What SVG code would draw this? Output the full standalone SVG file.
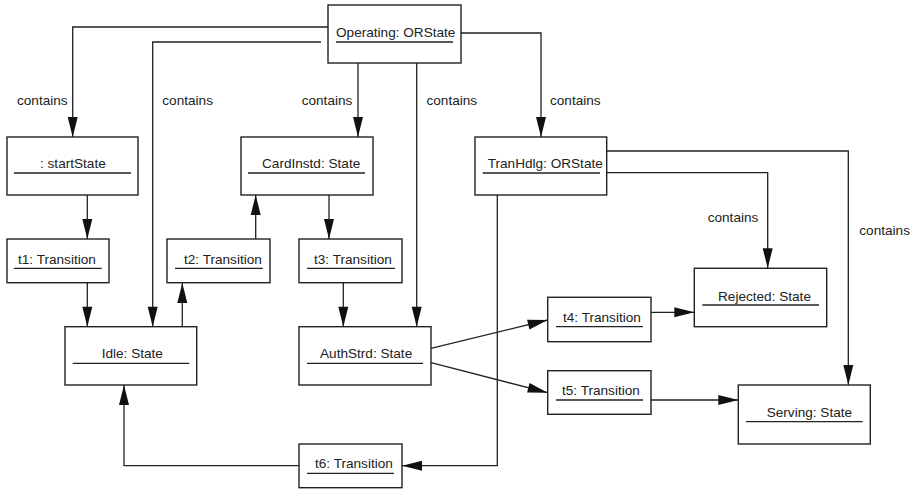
<svg xmlns="http://www.w3.org/2000/svg" width="914" height="490" viewBox="0 0 914 490">
<style>
.box{fill:#fff;stroke:#222;stroke-width:1.4}
.ul{stroke:#222;stroke-width:1.3}
.t{font-family:"Liberation Sans",Arial,sans-serif;font-size:13.6px;fill:#222}
.c{fill:none;stroke:#222;stroke-width:1.3}
</style>
<defs>
<marker id="ah" markerUnits="userSpaceOnUse" markerWidth="21" markerHeight="11" refX="20" refY="5" orient="auto" overflow="visible">
<path d="M0,0 L20,5 L0,10 z" fill="#111"/>
</marker>
</defs>
<rect width="914" height="490" fill="#fff"/>
<g id="connectors">
<path class="c" d="M328,27 H72.7 V137" marker-end="url(#ah)"/>
<path class="c" d="M321,42 H152.7 V326.7" marker-end="url(#ah)"/>
<path class="c" d="M358,63 V137" marker-end="url(#ah)"/>
<path class="c" d="M416.7,63 V326.7" marker-end="url(#ah)"/>
<path class="c" d="M461,33 H541 V137" marker-end="url(#ah)"/>
<path class="c" d="M87.3,195 V239" marker-end="url(#ah)"/>
<path class="c" d="M87.3,283 V326.7" marker-end="url(#ah)"/>
<path class="c" d="M182.3,326.7 V283" marker-end="url(#ah)"/>
<path class="c" d="M255.7,239 V195" marker-end="url(#ah)"/>
<path class="c" d="M329,195 V239" marker-end="url(#ah)"/>
<path class="c" d="M343.3,283 V326.7" marker-end="url(#ah)"/>
<path class="c" d="M431,348.3 L547.7,320" marker-end="url(#ah)"/>
<path class="c" d="M431,362.7 L547.7,392.7" marker-end="url(#ah)"/>
<path class="c" d="M651,312.3 H694.3" marker-end="url(#ah)"/>
<path class="c" d="M651,400 H738.3" marker-end="url(#ah)"/>
<path class="c" d="M606.7,172.7 H767.7 V268.3" marker-end="url(#ah)"/>
<path class="c" d="M606.7,151 H848.3 V385" marker-end="url(#ah)"/>
<path class="c" d="M497.3,195 V465.7 H402" marker-end="url(#ah)"/>
<path class="c" d="M299,465.7 H124 V385" marker-end="url(#ah)"/>
<text class="t" x="17" y="105">contains</text>
<text class="t" x="162.3" y="105">contains</text>
<text class="t" x="301.7" y="105">contains</text>
<text class="t" x="426.5" y="105">contains</text>
<text class="t" x="550" y="105">contains</text>
<text class="t" x="707.7" y="222">contains</text>
<text class="t" x="859.3" y="235">contains</text>
</g>
<g id="operating">
<rect class="box" x="328" y="5" width="133" height="58"/>
<text class="t" x="336" y="37">Operating: ORState</text>
<line class="ul" x1="336" y1="42" x2="453" y2="42"/>
</g>
<g id="startState">
<rect class="box" x="7" y="137" width="131" height="58"/>
<text class="t" x="40" y="168">: startState</text>
<line class="ul" x1="14" y1="173" x2="131" y2="173"/>
</g>
<g id="cardInstd">
<rect class="box" x="241" y="137" width="132" height="58"/>
<text class="t" x="262" y="168">CardInstd: State</text>
<line class="ul" x1="248" y1="173" x2="365" y2="173"/>
</g>
<g id="tranHdlg">
<rect class="box" x="475" y="137" width="131.7" height="58"/>
<text class="t" x="487.7" y="168">TranHdlg: ORState</text>
<line class="ul" x1="482.7" y1="173" x2="600" y2="173"/>
</g>
<g id="t1">
<rect class="box" x="7" y="239" width="102" height="43.7"/>
<text class="t" x="18" y="264">t1: Transition</text>
<line class="ul" x1="14" y1="268.3" x2="101.7" y2="268.3"/>
</g>
<g id="t2">
<rect class="box" x="167" y="239" width="103" height="43.7"/>
<text class="t" x="184" y="264">t2: Transition</text>
<line class="ul" x1="175" y1="268.3" x2="262.7" y2="268.3"/>
</g>
<g id="t3">
<rect class="box" x="299" y="239" width="103" height="43.7"/>
<text class="t" x="314" y="264">t3: Transition</text>
<line class="ul" x1="307" y1="268.3" x2="395" y2="268.3"/>
</g>
<g id="idle">
<rect class="box" x="65" y="326.7" width="131.7" height="58.3"/>
<text class="t" x="101.7" y="358">Idle: State</text>
<line class="ul" x1="72.7" y1="363.3" x2="189.3" y2="363.3"/>
</g>
<g id="authStrd">
<rect class="box" x="299" y="326.7" width="132" height="58.3"/>
<text class="t" x="320" y="358">AuthStrd: State</text>
<line class="ul" x1="307" y1="363.3" x2="423" y2="363.3"/>
</g>
<g id="t6">
<rect class="box" x="299" y="444" width="103" height="43.7"/>
<text class="t" x="315" y="468">t6: Transition</text>
<line class="ul" x1="307" y1="473.3" x2="394" y2="473.3"/>
</g>
<g id="t4">
<rect class="box" x="547.7" y="297.3" width="103.3" height="44.4"/>
<text class="t" x="563" y="322">t4: Transition</text>
<line class="ul" x1="556" y1="326.7" x2="643" y2="326.7"/>
</g>
<g id="t5">
<rect class="box" x="547.7" y="370.7" width="103.3" height="43.6"/>
<text class="t" x="562" y="395">t5: Transition</text>
<line class="ul" x1="556" y1="400" x2="643" y2="400"/>
</g>
<g id="rejected">
<rect class="box" x="694.3" y="268.3" width="132.4" height="58.4"/>
<text class="t" x="718" y="300.5">Rejected: State</text>
<line class="ul" x1="702.3" y1="305" x2="819" y2="305"/>
</g>
<g id="serving">
<rect class="box" x="738.3" y="385" width="132" height="59"/>
<text class="t" x="766.7" y="417">Serving: State</text>
<line class="ul" x1="746" y1="421.7" x2="862.7" y2="421.7"/>
</g>
</svg>
